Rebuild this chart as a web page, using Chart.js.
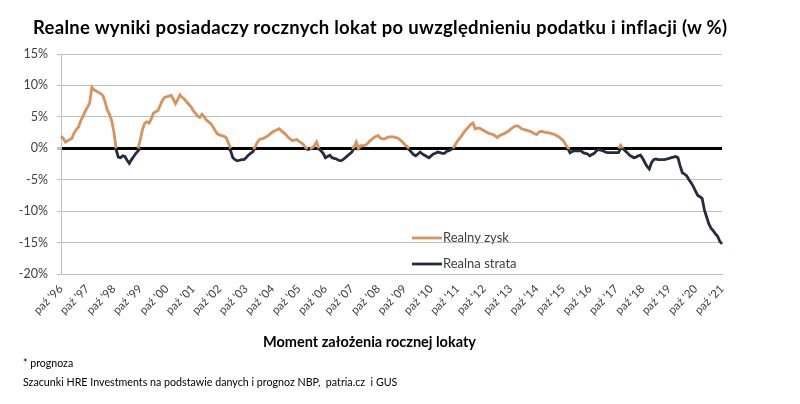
<!DOCTYPE html>
<html>
<head>
<meta charset="utf-8">
<script src="https://cdn.jsdelivr.net/npm/chart.js@4/dist/chart.umd.min.js"></script>
<style>
  body { margin: 0; background: #fff; }
  #wrap { position: relative; width: 800px; height: 404px; font-family: Lato, "Open Sans", sans-serif; color: #000; }
  #title { position: absolute; left: 33px; top: 16px; font-size: 18.5px; letter-spacing: 0.3px; font-weight: bold; white-space: nowrap; }
  #xtitle { position: absolute; left: 263px; top: 333px; font-size: 14.5px; font-weight: bold; white-space: nowrap; }
  #note1 { position: absolute; left: 23px; top: 357px; font-size: 10.6px; white-space: nowrap; }
  #note2 { position: absolute; left: 23px; top: 375px; font-size: 10.7px; white-space: nowrap; }
  canvas { position: absolute; left: 0; top: 0; }
</style>
</head>
<body>
<div id="wrap">
  <canvas id="chart" width="800" height="404"></canvas>
  <div id="title">Realne wyniki posiadaczy rocznych lokat po uwzględnieniu podatku i inflacji (w %)</div>
  <div id="xtitle">Moment założenia rocznej lokaty</div>
  <div id="note1">* prognoza</div>
  <div id="note2">Szacunki HRE Investments na podstawie danych i prognoz NBP,&nbsp; patria.cz&nbsp; i GUS</div>
</div>
<script>
// etykiety osi X (co 12 miesięcy, od paź '96)
const tickLabels = ["paź '96", "paź '97", "paź '98", "paź '99", "paź '00", "paź '01", "paź '02",
    "paź '03", "paź '04", "paź '05", "paź '06", "paź '07", "paź '08", "paź '09", "paź '10",
    "paź '11", "paź '12", "paź '13", "paź '14", "paź '15", "paź '16", "paź '17", "paź '18",
    "paź '19", "paź '20", "paź '21"];

// realny wynik w %, miesięcznie od paź 1996 do paź 2021
const realResult = [
    1.9, 1.6, 1.0, 1.2, 1.4, 1.6, 2.5, 3.0, 3.4, 4.4, 5.1, 5.9,
    6.5, 7.2, 9.7, 9.3, 9.1, 8.9, 8.7, 8.4, 7.4, 6.1, 5.4, 4.4,
    2.6, -0.2, -1.4, -1.5, -1.2, -1.3, -1.9, -2.4, -1.8, -1.3, -0.8, -0.4,
    1.4, 3.0, 4.0, 4.2, 4.0, 4.7, 5.6, 5.8, 6.0, 6.8, 7.6, 8.1,
    8.2, 8.3, 8.4, 7.8, 7.1, 7.8, 8.5, 8.1, 7.8, 7.4, 7.0, 6.6,
    6.0, 5.6, 5.1, 4.9, 5.4, 5.0, 4.5, 4.2, 3.9, 3.4, 2.8, 2.3,
    2.1, 2.0, 1.9, 1.7, 0.8, -0.4, -1.5, -1.8, -2.0, -1.9, -1.8, -1.8,
    -1.5, -1.1, -0.8, -0.6, 0.1, 0.9, 1.4, 1.5, 1.6, 1.8, 2.0, 2.3,
    2.6, 2.8, 2.9, 3.1, 2.8, 2.5, 2.2, 1.8, 1.5, 1.2, 1.3, 1.4,
    1.1, 0.9, 0.6, 0.1, -0.2, -0.1, 0.1, 0.4, 1.0, -0.1, -0.4, -0.8,
    -1.5, -1.3, -1.1, -1.5, -1.6, -1.7, -1.9, -2.0, -1.8, -1.5, -1.2, -0.9,
    -0.6, 0.2, 1.0, -0.1, 0.4, 0.4, 0.5, 0.7, 1.1, 1.4, 1.7, 1.9,
    2.0, 1.6, 1.5, 1.5, 1.7, 1.8, 1.8, 1.8, 1.7, 1.6, 1.3, 1.0,
    0.6, 0.3, -0.2, -0.6, -1.0, -1.2, -0.9, -0.6, -0.9, -1.1, -1.3, -1.5,
    -1.2, -0.9, -0.8, -0.6, -0.7, -0.8, -0.8, -0.5, -0.4, -0.2, 0.0, 0.6,
    1.2, 1.6, 2.1, 2.6, 3.0, 3.4, 3.8, 4.0, 3.1, 3.2, 3.2, 3.0,
    2.8, 2.6, 2.4, 2.3, 2.2, 2.0, 1.7, 2.0, 2.2, 2.3, 2.5, 2.7,
    3.0, 3.3, 3.5, 3.6, 3.4, 3.1, 3.0, 2.9, 2.8, 2.7, 2.5, 2.3,
    2.2, 2.6, 2.7, 2.6, 2.5, 2.5, 2.4, 2.3, 2.2, 2.0, 1.8, 1.5,
    1.2, 0.6, 0.1, -0.7, -0.5, -0.4, -0.4, -0.4, -0.4, -0.7, -0.8, -0.9,
    -1.2, -1.0, -0.8, -0.4, -0.2, -0.3, -0.4, -0.6, -0.7, -0.7, -0.7, -0.7,
    -0.7, -0.7, 0.5, 0.0, -0.4, -0.7, -1.1, -1.3, -1.5, -1.4, -1.2, -1.1,
    -1.6, -2.3, -2.9, -3.3, -2.3, -1.8, -1.7, -1.8, -1.8, -1.8, -1.8, -1.7,
    -1.6, -1.5, -1.4, -1.3, -1.5, -2.8, -3.9, -4.1, -4.4, -5.0, -5.5, -6.1,
    -6.8, -7.5, -7.7, -8.0, -9.8, -10.9, -12.0, -12.7, -13.1, -13.6, -14.0, -14.8,
    -15.2
];

const seriesNames = ['Realny zysk', 'Realna strata'];
const seriesColors = ['#D9925A', '#262B3D'];

// zysk = część dodatnia, strata = część ujemna
const gain = realResult.map(v => Math.max(v, 0));
const loss = realResult.map(v => Math.min(v, 0));
const labels = realResult.map((v, i) => i % 12 === 0 ? tickLabels[i / 12] : '');

// nie rysuj odcinków leżących na osi 0
const hideFlat = {
    borderColor: ctx => (ctx.p0.parsed.y === 0 && ctx.p1.parsed.y === 0) ? 'rgba(0,0,0,0)' : undefined
};

const innerLegend = {
    id: 'innerLegend',
    afterDraw(chart) {
        const c = chart.ctx;
        c.save();
        c.font = '13px Lato';
        c.textBaseline = 'middle';
        chart.data.datasets.forEach((ds, i) => {
            const y = 238 + i * 26;
            c.strokeStyle = ds.borderColor;
            c.lineWidth = 2.8;
            c.beginPath();
            c.moveTo(412, y);
            c.lineTo(442, y);
            c.stroke();
            c.fillStyle = '#404040';
            c.fillText(ds.label, 443, y);
        });
        c.restore();
    }
};

new Chart(document.getElementById('chart'), {
    type: 'line',
    data: {
        labels: labels,
        datasets: [
            { label: seriesNames[0], data: gain, borderColor: seriesColors[0], borderWidth: 2.8,
              pointRadius: 0, tension: 0, segment: hideFlat },
            { label: seriesNames[1], data: loss, borderColor: seriesColors[1], borderWidth: 2.8,
              pointRadius: 0, tension: 0, segment: hideFlat }
        ]
    },
    options: {
        responsive: false,
        animation: false,
        devicePixelRatio: 1,
        layout: { padding: { top: 54, right: 78, left: 0, bottom: 0 } },
        plugins: {
            legend: { display: false },
            tooltip: { enabled: false }
        },
        scales: {
            x: {
                offset: false,
                grid: { display: false, drawTicks: false },
                border: { display: true, color: '#BFBFBF' },
                ticks: {
                    autoSkip: false,
                    minRotation: 45,
                    maxRotation: 45,
                    padding: 8,
                    color: '#404040',
                    font: { family: 'Lato', size: 11.5 }
                },
                afterFit: s => { s.height = 130; }
            },
            y: {
                min: -20,
                max: 15,
                grid: {
                    color: ctx => ctx.tick && ctx.tick.value === 0 ? '#000' : '#BFBFBF',
                    lineWidth: ctx => ctx.tick && ctx.tick.value === 0 ? 3 : 1,
                    tickColor: '#BFBFBF',
                    tickLength: 4
                },
                border: { display: true, color: '#BFBFBF' },
                ticks: {
                    stepSize: 5,
                    padding: 9,
                    color: '#404040',
                    font: { family: 'Lato', size: 12.5 },
                    callback: v => v + '%'
                },
                afterFit: s => { s.width = 61; }
            }
        }
    },
    plugins: [innerLegend]
});
</script>
</body>
</html>
